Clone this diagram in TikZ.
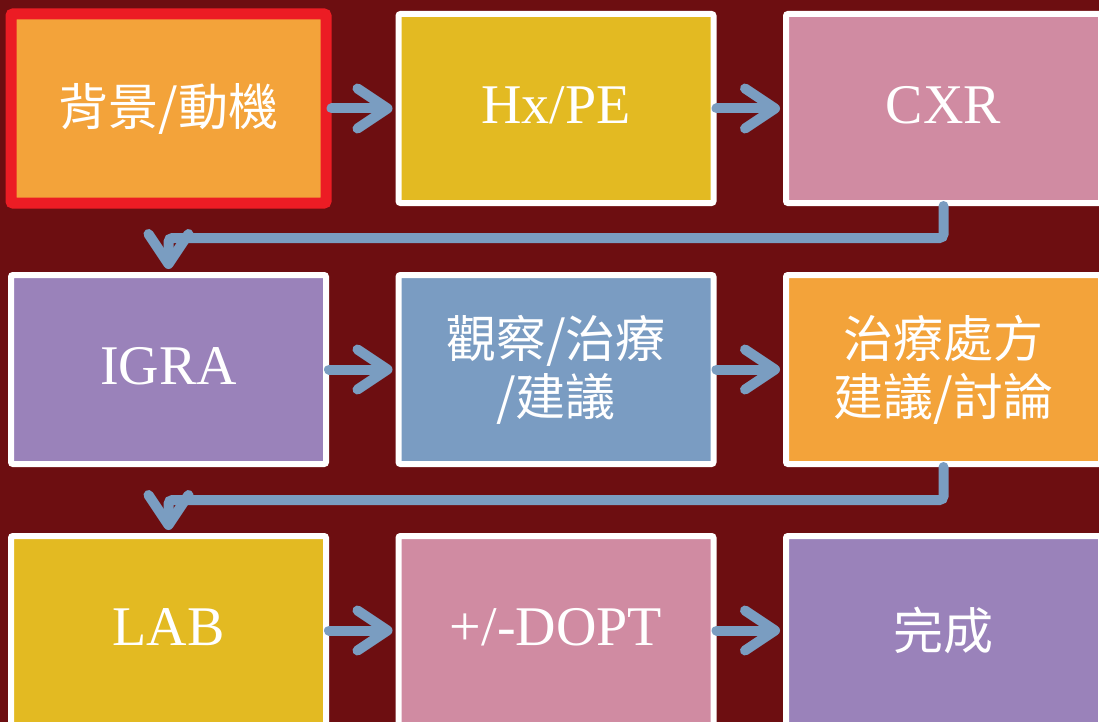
\documentclass[tikz,border=0pt]{standalone}
\usepackage{fontspec}
\setmainfont{Liberation Serif}
\newfontfamily\cjk{Noto Sans CJK TC}
\usetikzlibrary{arrows.meta}
\definecolor{bgred}{HTML}{6D0E11}
\definecolor{boxorange}{HTML}{F3A33A}
\definecolor{boxyellow}{HTML}{E3BA22}
\definecolor{boxpink}{HTML}{D08BA2}
\definecolor{boxpurple}{HTML}{9A82BA}
\definecolor{boxblue}{HTML}{7A9CC2}
\definecolor{arrowblue}{HTML}{7A9DC1}
\definecolor{hilite}{HTML}{EC1C24}
\begin{document}
\begin{tikzpicture}[x=1pt,y=-1pt,
  box/.style={draw=white, line width=6pt, rounded corners=2pt,
    minimum width=315pt, minimum height=189pt, inner sep=0pt,
    text=white, align=center, font=\fontsize{56}{60}\selectfont},
  latinbox/.style={box, text height=37pt, text depth=7pt},
  cjkbox/.style={box, font=\cjk\fontsize{50}{58}\selectfont},
  flow/.style={draw=arrowblue, line width=10pt, line cap=round,
    -{Straight Barb[length=30pt,width=40pt,round]}, shorten >=3pt},
]
\fill[bgred] (0,0) rectangle (1099,722);
\useasboundingbox (0,0) rectangle (1099,722);
\clip (0,0) rectangle (1099,722);

\node[cjkbox, fill=boxorange, draw=hilite, line width=11pt] (n1) at (168.5,108.5) {背景/動機};
\node[latinbox, fill=boxyellow] (n2) at (556,108.5) {Hx/PE};
\node[latinbox, fill=boxpink] (n3) at (943.5,108.5) {CXR};

\node[latinbox, fill=boxpurple] (n4) at (168.5,369.5) {IGRA};
\node[cjkbox, fill=boxblue] (n5) at (556,369.5) {觀察/治療\\/建議};
\node[cjkbox, fill=boxorange] (n6) at (943.5,369.5) {治療處方\\建議/討論};

\node[latinbox, fill=boxyellow] (n7) at (168.5,630.5) {LAB};
\node[latinbox, fill=boxpink] (n8) at (556,630.5) {+/-DOPT};
\node[cjkbox, fill=boxpurple] (n9) at (943.5,630.5) {完成};

\draw[flow] (n1.east) -- (n2.west);
\draw[flow] (n2.east) -- (n3.west);
\draw[flow, rounded corners=4pt] (n3.south) -- ++(0,32) -| (n4.north);
\draw[flow] (n4.east) -- (n5.west);
\draw[flow] (n5.east) -- (n6.west);
\draw[flow, rounded corners=4pt] (n6.south) -- ++(0,33) -| (n7.north);
\draw[flow] (n7.east) -- (n8.west);
\draw[flow] (n8.east) -- (n9.west);
\end{tikzpicture}
\end{document}
